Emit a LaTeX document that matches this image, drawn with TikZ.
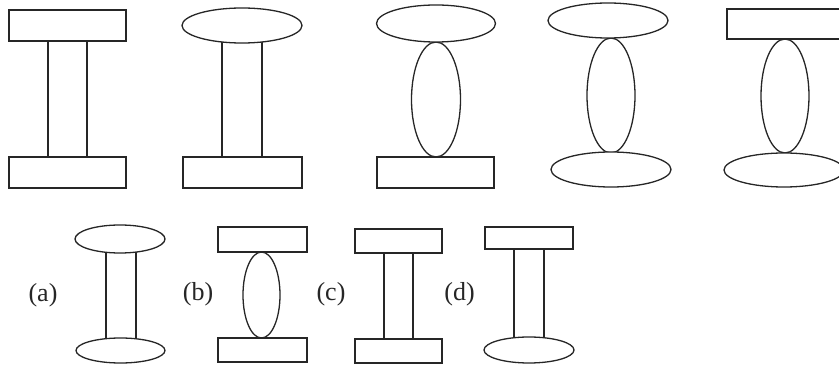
\documentclass[tikz,border=0pt]{standalone}
\usepackage{fontspec}
\setmainfont{Liberation Serif}
\begin{document}
\begin{tikzpicture}[x=1pt,y=-1pt,
  shp/.style={draw=black!85,line width=1.3pt,fill=white},
  lbl/.style={font=\fontsize{26}{28}\selectfont,text=black!85,inner sep=0pt}]
\useasboundingbox (0,0) rectangle (839,366);
\clip (0,0) rectangle (839,366);
% Figure 1
\draw[shp] (48,30) rectangle (87,170);
\draw[shp] (9,10) rectangle (126,41);
\draw[shp] (9,157) rectangle (126,188);
% Figure 2
\draw[shp] (222,30) rectangle (262,170);
\draw[shp] (242,25.5) ellipse [x radius=60, y radius=17.5];
\draw[shp] (183,157) rectangle (302,188);
% Figure 3
\draw[shp] (436,99.5) ellipse [x radius=24.5, y radius=57.5];
\draw[shp] (436,23.5) ellipse [x radius=59.5, y radius=18.5];
\draw[shp] (377,157) rectangle (494,188);
% Figure 4
\draw[shp] (611,95.5) ellipse [x radius=24, y radius=57.5];
\draw[shp] (608,20.5) ellipse [x radius=60, y radius=17.5];
\draw[shp] (611,169.5) ellipse [x radius=60, y radius=17.5];
% Figure 5
\draw[shp] (785,96) ellipse [x radius=24, y radius=57];
\draw[shp] (727,9) rectangle (845,39);
\draw[shp] (784,170) ellipse [x radius=60, y radius=17];
% (a)
\node[lbl] (la) at (43,295) {(a)};
\draw[shp] (106,245) rectangle (136,345);
\draw[shp] (120,239) ellipse [x radius=45, y radius=14];
\draw[shp] (120.5,350.5) ellipse [x radius=44.5, y radius=12.5];
% (b)
\node[lbl] (lb) at (198,294) {(b)};
\draw[shp] (261.5,295) ellipse [x radius=18.5, y radius=43];
\draw[shp] (218,227) rectangle (307,252);
\draw[shp] (218,338) rectangle (307,362);
% (c)
\node[lbl] (lc) at (331,294) {(c)};
\draw[shp] (384,253) rectangle (413,339);
\draw[shp] (355,229) rectangle (442,253);
\draw[shp] (355,339) rectangle (442,363);
% (d)
\node[lbl] (ld) at (459.5,294) {(d)};
\draw[shp] (514,249) rectangle (544,345);
\draw[shp] (485,227) rectangle (573,249);
\draw[shp] (529,350) ellipse [x radius=45, y radius=13];
\end{tikzpicture}
\end{document}
